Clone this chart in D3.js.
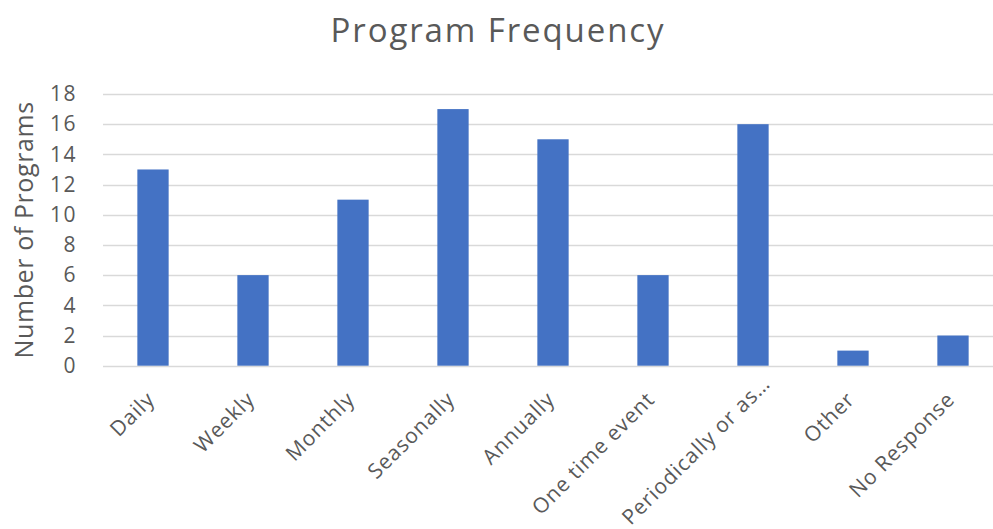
<!DOCTYPE html>
<html>
<head>
<meta charset="utf-8">
<script src="https://cdn.jsdelivr.net/npm/d3@7"></script>
<style>
  body { margin: 0; background: #fff; }
  svg { display: block; font-family: "Open Sans", Lato, sans-serif; }
</style>
</head>
<body>
<div id="chart"></div>
<script>
// chart data
var categories = ['Daily', 'Weekly', 'Monthly', 'Seasonally', 'Annually', 'One time event', 'Periodically or as\u2026', 'Other', 'No Response'];
var programCounts = [13, 6, 11, 17, 15, 6, 16, 1, 2];
var yTicks = [0, 2, 4, 6, 8, 10, 12, 14, 16, 18];

var W = 993, H = 529;
var margin = { top: 94, left: 103, bottom: 163 };
var plotRight = 1003; // category axis runs past the window edge

var svg = d3.select('#chart').append('svg')
    .attr('width', W)
    .attr('height', H);

var x = d3.scaleBand()
    .domain(categories)
    .range([margin.left, plotRight])
    .paddingInner(0.687)
    .paddingOuter(0.3435);

var y = d3.scaleLinear()
    .domain([0, 18])
    .range([H - margin.bottom - 0.3, margin.top]);

// horizontal gridlines
svg.append('g')
    .selectAll('line')
    .data(yTicks)
    .join('line')
    .attr('x1', margin.left)
    .attr('x2', plotRight)
    .attr('y1', function (d) { return Math.round(y(d)) + 0.5; })
    .attr('y2', function (d) { return Math.round(y(d)) + 0.5; })
    .style('stroke', '#d9d9d9')
    .style('stroke-width', '1.5px');

// bars
svg.append('g')
    .selectAll('rect')
    .data(programCounts)
    .join('rect')
    .attr('x', function (d, i) { return x(categories[i]); })
    .attr('width', x.bandwidth())
    .attr('y', function (d) { return y(d); })
    .attr('height', function (d) { return y(0) - y(d); })
    .style('fill', '#4472c4');

// y axis tick labels
var yAxis = d3.axisLeft(y)
    .tickValues(yTicks)
    .tickSize(0)
    .tickPadding(0);

svg.append('g')
    .attr('transform', 'translate(' + (margin.left - 26) + ',0)')
    .call(yAxis)
    .call(function (g) { g.select('.domain').remove(); })
    .selectAll('text')
    .style('font-family', '"Open Sans", sans-serif')
    .style('font-size', '21px')
    .style('letter-spacing', '1.5px')
    .style('fill', '#595959');

// x axis labels, rotated -45deg; the long one is slid up its baseline so it stays inside the picture
var labelDx = 3, labelDy = 35, labelFloor = H - 3;

svg.append('g')
    .selectAll('text')
    .data(categories)
    .join('text')
    .attr('text-anchor', 'end')
    .style('font-size', '21px')
    .style('letter-spacing', '0.9px')
    .style('fill', '#595959')
    .text(function (d) { return d; })
    .attr('transform', function (d) {
        var drop = this.getComputedTextLength() / Math.SQRT2;
        var shift = Math.max(0, y(0) + labelDy + drop - labelFloor);
        var cx = x(d) + x.bandwidth() / 2 + labelDx + shift;
        var cy = y(0) + labelDy - shift;
        return 'translate(' + cx + ',' + cy + ') rotate(-45)';
    });

// axis title
svg.append('text')
    .attr('transform', 'translate(33,' + ((y(0) + y(18)) / 2) + ') rotate(-90)')
    .attr('text-anchor', 'middle')
    .style('font-size', '25px')
    .style('letter-spacing', '0.6px')
    .style('fill', '#595959')
    .text('Number of Programs');

// chart title
svg.append('text')
    .attr('x', 498)
    .attr('y', 42)
    .attr('text-anchor', 'middle')
    .style('font-size', '33px')
    .style('letter-spacing', '1.9px')
    .style('fill', '#595959')
    .text('Program Frequency');
</script>
</body>
</html>
